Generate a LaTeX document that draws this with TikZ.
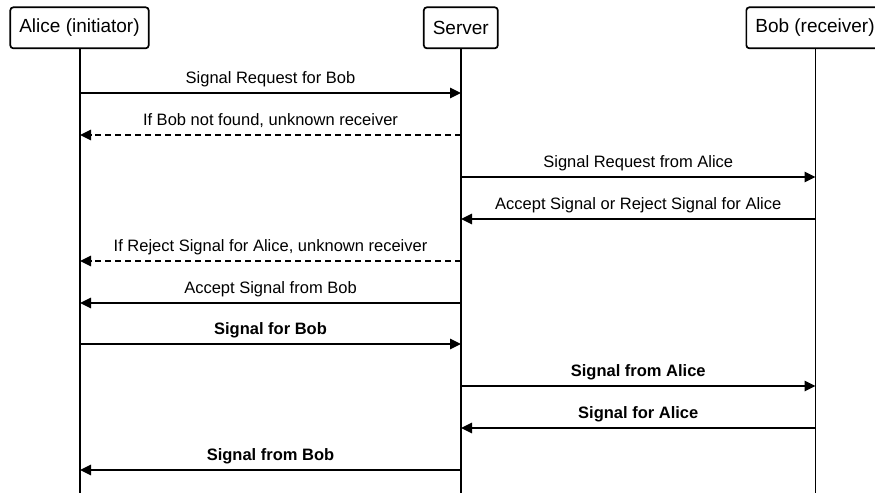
\documentclass[tikz,border=0pt]{standalone}
\usepackage{fontspec}
\setmainfont{Liberation Sans}
\usetikzlibrary{arrows.meta}
\begin{document}
\begin{tikzpicture}[x=1pt,y=-1pt,
  actor/.style={draw,line width=1.7pt,rounded corners=3pt,fill=white,minimum height=41pt,inner xsep=9pt,font=\fontsize{19}{21}\selectfont},
  life/.style={line width=1.7pt},
  msg/.style={line width=1.7pt,-{Triangle[length=11pt,width=10.5pt]}},
  reply/.style={msg,dash pattern=on 6pt off 4pt},
  lbl/.style={font=\fontsize{16.5}{18}\selectfont,inner sep=0pt,anchor=base,yshift=10pt,midway},
  blbl/.style={lbl,font=\fontsize{16.5}{18}\selectfont\bfseries}]
\useasboundingbox (0,0) rectangle (875,493);
\begin{scope}
\clip (0,0) rectangle (875,493);
\node[actor] (alice) at (79.5,27.8) {Alice (initiator)};
\node[actor] (server) at (460.8,27.8) {Server};
\node[actor] (bob) at (815,27.8) {Bob (receiver)};
\end{scope}
\coordinate (aend) at (80,493);
\coordinate (send) at (461,493);
\coordinate (bend) at (815.5,493);
\draw[life] (alice.south -| aend) -- (aend);
\draw[life] (server.south -| send) -- (send);
\draw[life] (bob.south -| bend) -- (bend);
\foreach \i/\y in {1/93,2/135,3/177,4/219,5/261,6/303,7/344,8/386,9/428,10/470}{
  \coordinate (a\i) at (80,\y);
  \coordinate (s\i) at (461,\y);
  \coordinate (b\i) at (815.5,\y);
}
\draw[msg] (a1) -- node[lbl] {Signal Request for Bob} (s1);
\draw[reply] (s2) -- node[lbl] {If Bob not found, unknown receiver} (a2);
\draw[msg] (s3) -- node[lbl] {Signal Request from Alice} (b3);
\draw[msg] (b4) -- node[lbl] {Accept Signal or Reject Signal for Alice} (s4);
\draw[reply] (s5) -- node[lbl] {If Reject Signal for Alice, unknown receiver} (a5);
\draw[msg] (s6) -- node[lbl] {Accept Signal from Bob} (a6);
\draw[msg] (a7) -- node[blbl] {Signal for Bob} (s7);
\draw[msg] (s8) -- node[blbl] {Signal from Alice} (b8);
\draw[msg] (b9) -- node[blbl] {Signal for Alice} (s9);
\draw[msg] (s10) -- node[blbl] {Signal from Bob} (a10);
\end{tikzpicture}
\end{document}
